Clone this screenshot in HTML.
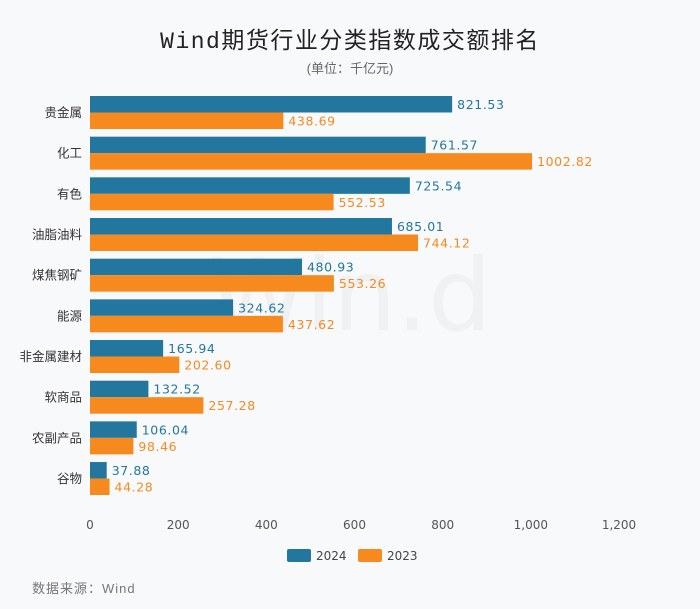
<!DOCTYPE html>
<html><head><meta charset="utf-8"><style>
body{margin:0;background:#f8f9fb;}
#c{position:relative;width:700px;height:609px;background:#f8f9fb;font-family:"Liberation Sans","Noto Sans CJK SC",sans-serif;overflow:hidden}
.num{font-family:"DejaVu Sans",sans-serif;}
</style></head><body>
<div id="c">
<svg id="s" width="700" height="609" xmlns="http://www.w3.org/2000/svg">
<text x="350" y="48" text-anchor="middle" font-size="23" fill="#222" letter-spacing="1.5" font-family="Liberation Mono,Noto Sans CJK SC,sans-serif">Wind期货行业分类指数成交额排名</text>
<text x="350" y="73" text-anchor="middle" font-size="13" fill="#666">(单位：千亿元)</text>
<text x="350" y="330" text-anchor="middle" font-size="100" fill="#ebecef" opacity="0.6" font-family="DejaVu Sans,sans-serif">Win.d</text>
<g id="g"></g>
<rect x="287" y="549" width="24" height="13" rx="2" fill="#23779f"/>
<text x="316" y="560" font-size="12" fill="#444" class="num">2024</text>
<rect x="358" y="549" width="24" height="13" rx="2" fill="#f68a1e"/>
<text x="387" y="560" font-size="12" fill="#444" class="num">2023</text>
<text x="32" y="593" font-size="13" fill="#777" letter-spacing="1">数据来源：Wind</text>
</svg>
</div>
<script>
const categories=["贵金属","化工","有色","油脂油料","煤焦钢矿","能源","非金属建材","软商品","农副产品","谷物"];
const values2024=[821.53,761.57,725.54,685.01,480.93,324.62,165.94,132.52,106.04,37.88];
const values2023=[438.69,1002.82,552.53,744.12,553.26,437.62,202.60,257.28,98.46,44.28];
const xTicks=[0,200,400,600,800,1000,1200];
const xTickLabels=["0","200","400","600","800","1,000","1,200"];
const NS="http://www.w3.org/2000/svg";
const g=document.getElementById('g');
const x0=90,x1=619,xmax=1200,yTop=92,band=40.67;
function xs(v){return x0+(v/xmax)*(x1-x0);}
function yb(i){return yTop+i*band;}
function mk(t,a){const e=document.createElementNS(NS,t);for(const k in a)e.setAttribute(k,a[k]);g.appendChild(e);return e;}
xTicks.forEach((t,i)=>{
 const e=mk('text',{x:xs(t),y:529,'text-anchor':'middle','font-size':12,fill:'#555','class':'num'});
 e.textContent=xTickLabels[i];
 
 
});
const fmt=v=>v.toFixed(2);
categories.forEach((c,i)=>{
 const y=yb(i)+4;
 const l=mk('text',{x:82,y:y+21,'text-anchor':'end','font-size':12.5,fill:'#333'});
 l.textContent=c;
 
 
 const b1=mk('rect',{x:x0,y:y,width:xs(values2024[i])-x0,height:16.5,fill:'#23779f'});
 
 
 const b2=mk('rect',{x:x0,y:y+16.5,width:xs(values2023[i])-x0,height:16.5,fill:'#f68a1e'});
 
 
 const t1=mk('text',{x:xs(values2024[i])+5,y:y+13,'font-size':12.5,fill:'#23779f','class':'num','letter-spacing':0.6});
 t1.textContent=fmt(values2024[i]);
 
 
 const t2=mk('text',{x:xs(values2023[i])+5,y:y+29.5,'font-size':12.5,fill:'#f68a1e','class':'num','letter-spacing':0.6});
 t2.textContent=fmt(values2023[i]);
 
 
});
</script>
</body></html>
